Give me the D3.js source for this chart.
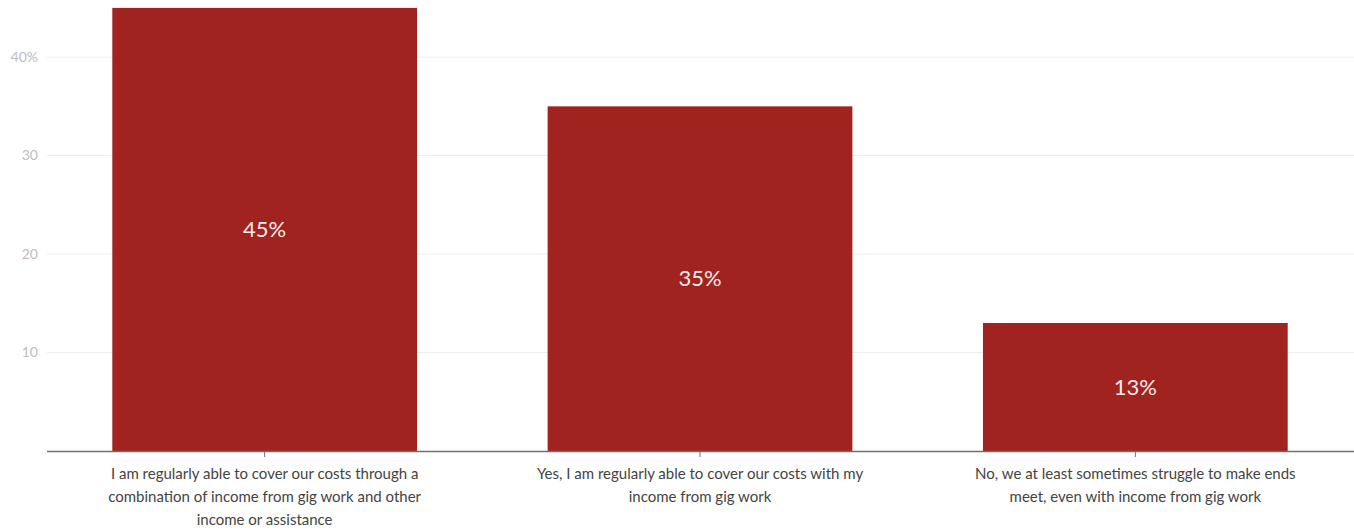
<!DOCTYPE html>
<html>
<head>
<meta charset="utf-8">
<script src="https://cdn.jsdelivr.net/npm/d3@7"></script>
<style>
  html, body { margin: 0; padding: 0; background: #fff; }
  svg { display: block; font-family: Lato, "Open Sans", sans-serif; }
</style>
</head>
<body>
<svg id="chart" width="1354" height="531"></svg>
<script>
// Survey answers and their shares (percent)
const categories = [
  "I am regularly able to cover our costs through a combination of income from gig work and other income or assistance",
  "Yes, I am regularly able to cover our costs with my income from gig work",
  "No, we at least sometimes struggle to make ends meet, even with income from gig work"
];
const categoryLines = [
  ["I am regularly able to cover our costs through a", "combination of income from gig work and other", "income or assistance"],
  ["Yes, I am regularly able to cover our costs with my", "income from gig work"],
  ["No, we at least sometimes struggle to make ends", "meet, even with income from gig work"]
];
const values = [45, 35, 13];
const yTicks = [10, 20, 30, 40];

const W = 1354, H = 531;
const margin = { top: 0, right: 1, bottom: 80, left: 47 };
const svg = d3.select("#chart");

const x = d3.scaleBand()
  .domain(categories)
  .range([margin.left, W - margin.right])
  .paddingInner(0.3)
  .paddingOuter(0.15);

const y = d3.scaleLinear()
  .domain([0, 45.8])
  .range([H - margin.bottom, margin.top]);

// horizontal gridlines
svg.append("g")
  .selectAll("line")
  .data(yTicks)
  .join("line")
  .attr("x1", margin.left)
  .attr("x2", W)
  .attr("y1", d => y(d))
  .attr("y2", d => y(d))
  .attr("stroke", "#ececec")
  .attr("stroke-width", 1);

// y tick labels
svg.append("g")
  .selectAll("text")
  .data(yTicks)
  .join("text")
  .attr("x", 38)
  .attr("y", d => y(d))
  .attr("dy", "0.35em")
  .attr("text-anchor", "end")
  .attr("fill", "#bdbdbd")
  .attr("font-size", 14)
  .text(d => d === 40 ? d + "%" : d);

// bars
svg.append("g")
  .selectAll("rect")
  .data(values)
  .join("rect")
  .attr("x", (d, i) => x(categories[i]))
  .attr("width", x.bandwidth())
  .attr("y", d => y(d))
  .attr("height", d => y(0) - y(d))
  .attr("fill", "#a02320");

// value labels inside bars
svg.append("g")
  .selectAll("text")
  .data(values)
  .join("text")
  .attr("x", (d, i) => x(categories[i]) + x.bandwidth() / 2)
  .attr("y", d => y(d / 2))
  .attr("dy", "0.35em")
  .attr("text-anchor", "middle")
  .attr("fill", "#f4ecea")
  .attr("font-size", 22)
  .text(d => d + "%");

// x axis baseline and ticks
const xAxis = svg.append("g");
xAxis.append("line")
  .attr("x1", margin.left)
  .attr("x2", W)
  .attr("y1", y(0) + 0.5)
  .attr("y2", y(0) + 0.5)
  .attr("stroke", "#6f6f6f")
  .attr("stroke-width", 1.5);
xAxis.selectAll("line.tick")
  .data(categories)
  .join("line")
  .attr("class", "tick")
  .attr("x1", d => x(d) + x.bandwidth() / 2)
  .attr("x2", d => x(d) + x.bandwidth() / 2)
  .attr("y1", y(0))
  .attr("y2", y(0) + 6)
  .attr("stroke", "#6f6f6f")
  .attr("stroke-width", 1);

// wrapped category labels
const labels = xAxis.selectAll("text.cat")
  .data(categories)
  .join("text")
  .attr("class", "cat")
  .attr("x", d => x(d) + x.bandwidth() / 2)
  .attr("y", y(0) + 28)
  .attr("text-anchor", "middle")
  .attr("fill", "#444")
  .attr("font-size", 15);
labels.each(function(d, i) {
  const t = d3.select(this);
  categoryLines[i].forEach((line, j) => {
    t.append("tspan")
      .attr("x", x(d) + x.bandwidth() / 2)
      .attr("dy", j === 0 ? 0 : 23)
      .text(line);
  });
});
</script>
</body>
</html>
